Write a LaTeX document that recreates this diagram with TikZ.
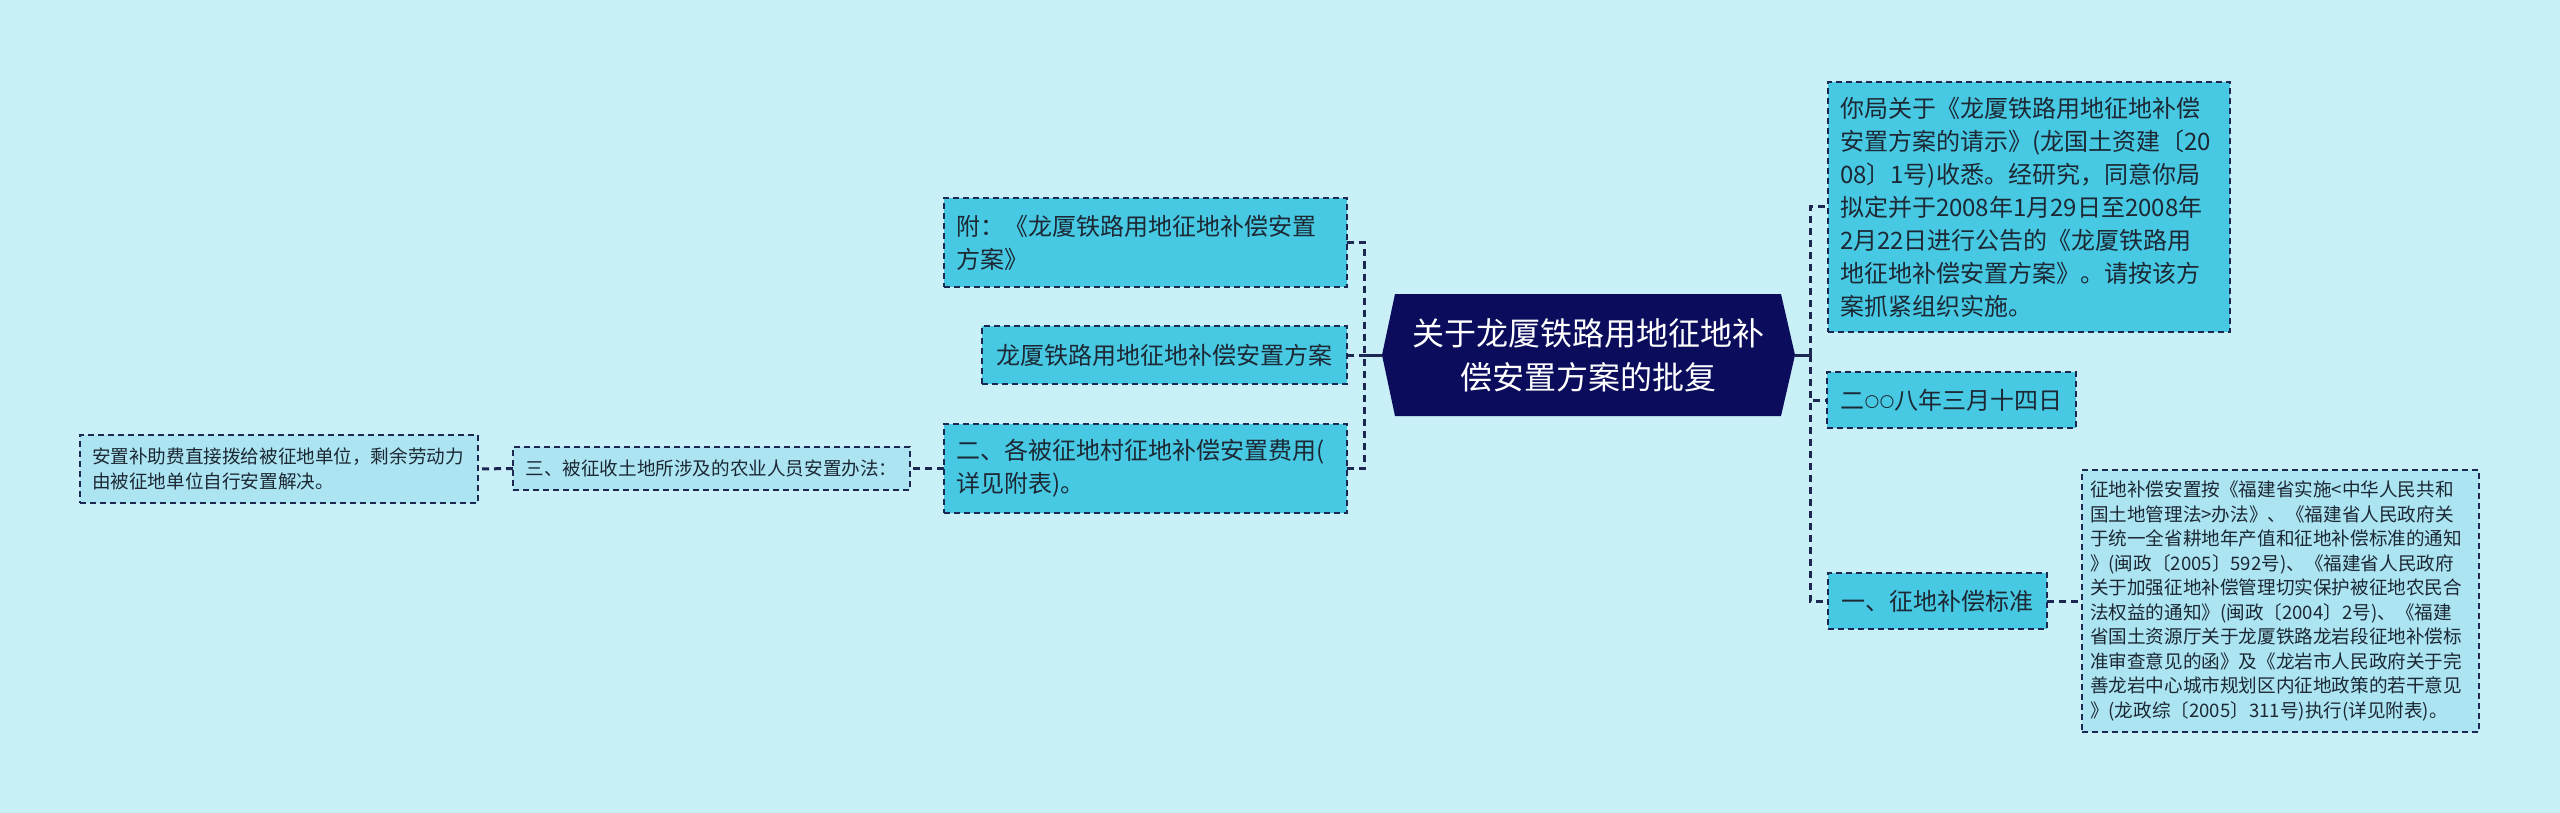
\documentclass[tikz,border=0pt]{standalone}
\usepackage{fontspec}
\setmainfont{Noto Sans CJK SC}
\newfontfamily\symf{DejaVu Sans}
\usetikzlibrary{calc}
\definecolor{bgc}{RGB}{201,239,247}
\definecolor{cyanfill}{RGB}{72,201,227}
\definecolor{lightfill}{RGB}{172,228,242}
\definecolor{navy}{RGB}{11,12,92}
\definecolor{edgec}{RGB}{28,40,82}
\definecolor{txt}{RGB}{28,40,52}
\pgfdeclarelayer{back}
\pgfdeclarelayer{mid}
\pgfsetlayers{back,mid,main}
\begin{document}
\begin{tikzpicture}[x=1pt,y=-1pt,
  box/.style={draw=edgec, line width=1.8pt, dash pattern=on 6pt off 4pt, fill=cyanfill, text=txt,
    inner ysep=0pt, inner xsep=12pt, outer sep=0pt, font=\fontsize{24}{33}\selectfont, align=left},
  leaf/.style={box, fill=lightfill, font=\fontsize{18.6}{24.5}\selectfont},
  conn/.style={draw=edgec, line width=3pt, dash pattern=on 7pt off 5pt},
  solidconn/.style={draw=edgec, line width=3pt},
  rootnode/.style={minimum width=413pt, minimum height=122pt, inner sep=0pt, outer sep=0pt, text=white,
    font=\fontsize{32}{44}\selectfont, align=center}]
\useasboundingbox (0,0) rectangle (2560,813);
\begin{pgfonlayer}{back}
\fill[bgc] (0,0) rectangle (2560,813);
\end{pgfonlayer}

% root
\node[rootnode] (root) at (1588.5,355) {关于龙厦铁路用地征地补\\偿安置方案的批复};

% left branch
\node[box, text width=379pt, minimum height=89pt] (n1) at (1145.5,242.5) {附：《龙厦铁路用地征地补偿安置\\方案》};
\node[box, minimum width=365pt, minimum height=58pt, align=center] (n2) at (1164.5,355) {龙厦铁路用地征地补偿安置方案};
\node[box, text width=379pt, minimum height=89pt] (n3) at (1145.5,468.5) {二、各被征地村征地补偿安置费用(\\详见附表)。};
\node[leaf, minimum width=397pt, minimum height=43pt, align=center] (n4) at (711.5,468.5) {三、被征收土地所涉及的农业人员安置办法：};
\node[leaf, text width=374pt, minimum height=68pt] (n5) at (279,469) {安置补助费直接拨给被征地单位，剩余劳动力\\由被征地单位自行安置解决。};

% right branch
\node[box, text width=378pt, minimum height=250pt] (r1) at (2029,207) {你局关于《龙厦铁路用地征地补偿\\安置方案的请示》(龙国土资建〔20\\08〕1号)收悉。经研究，同意你局\\拟定并于2008年1月29日至2008年\\2月22日进行公告的《龙厦铁路用\\地征地补偿安置方案》。请按该方\\案抓紧组织实施。};
\node[box, minimum width=249pt, minimum height=56pt, align=center] (r2) at (1951.5,400) {二{\symf\fontsize{17}{17}\selectfont\raisebox{2.5pt}{○○}}八年三月十四日};
\node[box, minimum width=219pt, minimum height=56pt, align=center] (r3) at (1937.5,601) {一、征地补偿标准};
\node[leaf, text width=381pt, inner xsep=8pt, minimum height=262pt] (r4) at (2280.5,601) {征地补偿安置按《福建省实施<中华人民共和\\国土地管理法>办法》、《福建省人民政府关\\于统一全省耕地年产值和征地补偿标准的通知\\》(闽政〔2005〕592号)、《福建省人民政府\\关于加强征地补偿管理切实保护被征地农民合\\法权益的通知》(闽政〔2004〕2号)、《福建\\省国土资源厅关于龙厦铁路龙岩段征地补偿标\\准审查意见的函》及《龙岩市人民政府关于完\\善龙岩中心城市规划区内征地政策的若干意见\\》(龙政综〔2005〕311号)执行(详见附表)。};

\begin{pgfonlayer}{mid}
\fill[navy] ($(root.north west)+(13,0)$) -- ($(root.north east)+(-14,0)$) -- (root.east)
  -- ($(root.south east)+(-14,0)$) -- ($(root.south west)+(13,0)$) -- (root.west) -- cycle;
\coordinate (lt) at (1364,355);
\coordinate (rt) at (1810,355);
\draw[conn] (n1.east) -| (lt);
\draw[conn] (n3.east) -| (lt);
\draw[conn] (n2.east) -- (lt);
\draw[solidconn] (root.west) -- (lt);
\draw[solidconn] (root.east) -- (rt);
\draw[conn] (rt) |- (r1.west);
\draw[conn] (rt) |- (r2.west);
\draw[conn] (rt) |- (r3.west);
\draw[conn] (r3.east) -- (r4.west);
\draw[conn] (n3.west) -- (n4.east);
\draw[conn] (n4.west) -- (n5.east);
\end{pgfonlayer}
\end{tikzpicture}
\end{document}
